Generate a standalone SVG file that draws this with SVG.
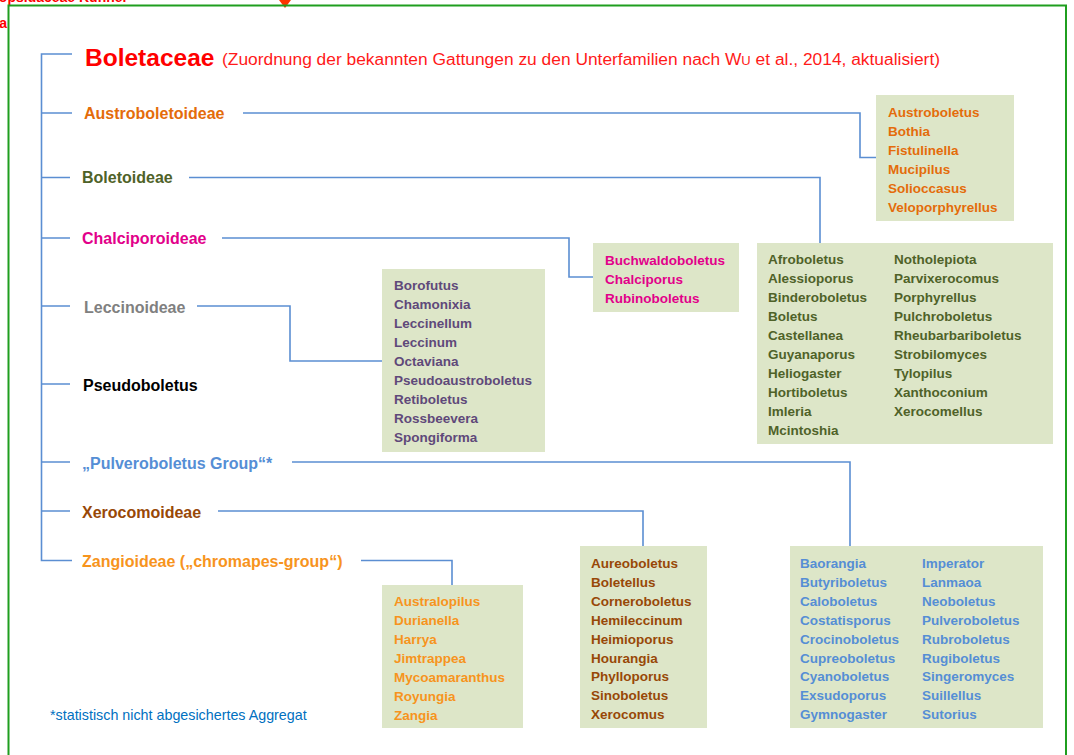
<svg xmlns="http://www.w3.org/2000/svg" width="1074" height="755" viewBox="0 0 1074 755">
<style>
text{font-family:"Liberation Sans",Arial,sans-serif}
.sf{font-size:16px;font-weight:bold}
.g{font-size:13.5px;font-weight:bold}
.box{fill:#dde6c8}
.ln{fill:none;stroke:#5b8ed2;stroke-width:1.6}
</style>
<rect width="1074" height="755" fill="#ffffff"/>
<g id="offpage">
<text x="128" y="2" text-anchor="end" font-size="14" font-weight="bold" fill="#ff0000">Hygrophoropsidaceae Kühner</text>
<text x="7" y="28" text-anchor="end" font-size="14" font-weight="bold" fill="#ff0000">a</text>
<polygon points="279,0 291,0 285,8" fill="#ff3300"/>
</g>
<rect id="frame" x="8.5" y="5.5" width="1057.5" height="770" fill="none" stroke="#1f9e1f" stroke-width="2"/>
<g id="connectors">
<path class="ln" d="M72,54 H41.5 V560.5 H72"/>
<path class="ln" d="M41.5,113 H72 M41.5,177.5 H70 M41.5,238 H70 M41.5,306 H70 M41.5,384 H70 M41.5,462 H70 M41.5,511 H70"/>
<path class="ln" d="M243,113 H860 V157.5 H876"/>
<path class="ln" d="M189,177.5 H820 V243"/>
<path class="ln" d="M222,238 H569 V277 H593"/>
<path class="ln" d="M197,306 H290 V361 H382"/>
<path class="ln" d="M292,462 H850 V546"/>
<path class="ln" d="M218,511 H643 V546"/>
<path class="ln" d="M361,560.5 H452 V585"/>
</g>
<g id="title">
<text x="85" y="66" font-size="24.5" font-weight="bold" fill="#ff0000">Boletaceae</text>
<text x="222" y="65" font-size="16" fill="#ff1a1a" textLength="718" lengthAdjust="spacingAndGlyphs">(Zuordnung der bekannten Gattungen zu den Unterfamilien nach W<tspan font-size="12">U</tspan> et al., 2014, aktualisiert)</text>
</g>
<g id="austroboletoideae">
<text class="sf" x="84" y="119" fill="#e46c0a">Austroboletoideae</text>
<rect class="box" x="876" y="95" width="138" height="126"/>
<text class="g" fill="#e46c0a"><tspan x="888" y="117">Austroboletus</tspan><tspan x="888" y="136">Bothia</tspan><tspan x="888" y="155">Fistulinella</tspan><tspan x="888" y="174">Mucipilus</tspan><tspan x="888" y="193">Solioccasus</tspan><tspan x="888" y="212">Veloporphyrellus</tspan></text>
</g>
<g id="boletoideae">
<text class="sf" x="82" y="183" fill="#4f6228">Boletoideae</text>
<rect class="box" x="757" y="243" width="296" height="201"/>
<text class="g" fill="#4f6228"><tspan x="768" y="264">Afroboletus</tspan><tspan x="768" y="283">Alessioporus</tspan><tspan x="768" y="302">Binderoboletus</tspan><tspan x="768" y="321">Boletus</tspan><tspan x="768" y="340">Castellanea</tspan><tspan x="768" y="359">Guyanaporus</tspan><tspan x="768" y="378">Heliogaster</tspan><tspan x="768" y="397">Hortiboletus</tspan><tspan x="768" y="416">Imleria</tspan><tspan x="768" y="435">Mcintoshia</tspan></text>
<text class="g" fill="#4f6228"><tspan x="894" y="264">Notholepiota</tspan><tspan x="894" y="283">Parvixerocomus</tspan><tspan x="894" y="302">Porphyrellus</tspan><tspan x="894" y="321">Pulchroboletus</tspan><tspan x="894" y="340">Rheubarbariboletus</tspan><tspan x="894" y="359">Strobilomyces</tspan><tspan x="894" y="378">Tylopilus</tspan><tspan x="894" y="397">Xanthoconium</tspan><tspan x="894" y="416">Xerocomellus</tspan></text>
</g>
<g id="chalciporoideae">
<text class="sf" x="82" y="244" fill="#e2008a">Chalciporoideae</text>
<rect class="box" x="593" y="243" width="146" height="69"/>
<text class="g" fill="#e2008a"><tspan x="605" y="265">Buchwaldoboletus</tspan><tspan x="605" y="284">Chalciporus</tspan><tspan x="605" y="303">Rubinoboletus</tspan></text>
</g>
<g id="leccinoideae">
<text class="sf" x="84" y="313" fill="#808080">Leccinoideae</text>
<rect class="box" x="382" y="269" width="163" height="183"/>
<text class="g" fill="#5f497a"><tspan x="394" y="290">Borofutus</tspan><tspan x="394" y="309">Chamonixia</tspan><tspan x="394" y="328">Leccinellum</tspan><tspan x="394" y="347">Leccinum</tspan><tspan x="394" y="366">Octaviana</tspan><tspan x="394" y="385">Pseudoaustroboletus</tspan><tspan x="394" y="404">Retiboletus</tspan><tspan x="394" y="423">Rossbeevera</tspan><tspan x="394" y="442">Spongiforma</tspan></text>
</g>
<g id="pseudoboletus">
<text class="sf" x="83" y="391" fill="#000000">Pseudoboletus</text>
</g>
<g id="pulveroboletus">
<text class="sf" x="82" y="469" fill="#558ed5">„Pulveroboletus Group“*</text>
<rect class="box" x="790" y="546" width="253" height="182"/>
<text class="g" fill="#558ed5"><tspan x="800" y="568">Baorangia</tspan><tspan x="800" y="587">Butyriboletus</tspan><tspan x="800" y="606">Caloboletus</tspan><tspan x="800" y="625">Costatisporus</tspan><tspan x="800" y="644">Crocinoboletus</tspan><tspan x="800" y="663">Cupreoboletus</tspan><tspan x="800" y="681">Cyanoboletus</tspan><tspan x="800" y="700">Exsudoporus</tspan><tspan x="800" y="719">Gymnogaster</tspan></text>
<text class="g" fill="#558ed5"><tspan x="922" y="568">Imperator</tspan><tspan x="922" y="587">Lanmaoa</tspan><tspan x="922" y="606">Neoboletus</tspan><tspan x="922" y="625">Pulveroboletus</tspan><tspan x="922" y="644">Rubroboletus</tspan><tspan x="922" y="663">Rugiboletus</tspan><tspan x="922" y="681">Singeromyces</tspan><tspan x="922" y="700">Suillellus</tspan><tspan x="922" y="719">Sutorius</tspan></text>
</g>
<g id="xerocomoideae">
<text class="sf" x="82" y="518" fill="#984807">Xerocomoideae</text>
<rect class="box" x="580" y="546" width="127" height="182"/>
<text class="g" fill="#984807"><tspan x="591" y="568">Aureoboletus</tspan><tspan x="591" y="587">Boletellus</tspan><tspan x="591" y="606">Corneroboletus</tspan><tspan x="591" y="625">Hemileccinum</tspan><tspan x="591" y="644">Heimioporus</tspan><tspan x="591" y="663">Hourangia</tspan><tspan x="591" y="681">Phylloporus</tspan><tspan x="591" y="700">Sinoboletus</tspan><tspan x="591" y="719">Xerocomus</tspan></text>
</g>
<g id="zangioideae">
<text class="sf" x="82" y="567" fill="#f7941d">Zangioideae („chromapes-group“)</text>
<rect class="box" x="382" y="585" width="141" height="143"/>
<text class="g" fill="#f7941d"><tspan x="394" y="606">Australopilus</tspan><tspan x="394" y="625">Durianella</tspan><tspan x="394" y="644">Harrya</tspan><tspan x="394" y="663">Jimtrappea</tspan><tspan x="394" y="682">Mycoamaranthus</tspan><tspan x="394" y="701">Royungia</tspan><tspan x="394" y="720">Zangia</tspan></text>
</g>
<g id="footnote">
<text x="50" y="720" font-size="14.3" fill="#0070c0">*statistisch nicht abgesichertes Aggregat</text>
</g>
</svg>
